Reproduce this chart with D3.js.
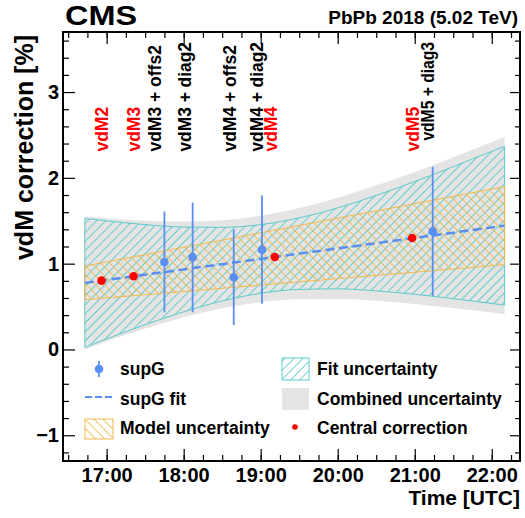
<!DOCTYPE html>
<html>
<head>
<meta charset="utf-8">
<script src="https://cdn.jsdelivr.net/npm/d3@7"></script>
<style>
  body { margin: 0; background: #fff; }
  text { font-family: 'Liberation Sans', Arial, Helvetica, sans-serif; font-weight: bold; }
</style>
</head>
<body>
<div id="chart"></div>
<script>
// uncertainty bands, sampled along the fit (UTC time of day, correction in %)
const bandTimes = ['16:43', '17:00', '17:30', '18:00', '18:30', '19:00', '19:30', '20:00', '20:30', '21:00', '21:30', '22:00', '22:10'];
const fitCentre = [0.776, 0.811, 0.872, 0.933, 0.994, 1.055, 1.117, 1.178, 1.239, 1.300, 1.361, 1.423, 1.443];
const fitLow = [0.025, 0.123, 0.289, 0.439, 0.565, 0.655, 0.700, 0.706, 0.683, 0.643, 0.592, 0.536, 0.517];
const fitHigh = [1.527, 1.499, 1.455, 1.427, 1.423, 1.455, 1.534, 1.650, 1.795, 1.957, 2.130, 2.310, 2.367];
const modelLow = [0.579, 0.601, 0.638, 0.675, 0.713, 0.750, 0.788, 0.825, 0.863, 0.900, 0.937, 0.976, 0.988];
const modelHigh = [0.973, 1.021, 1.106, 1.191, 1.275, 1.360, 1.446, 1.531, 1.615, 1.700, 1.785, 1.870, 1.898];
const combLow = [0.000, 0.092, 0.244, 0.376, 0.481, 0.552, 0.586, 0.588, 0.568, 0.531, 0.483, 0.430, 0.411];
const combHigh = [1.552, 1.530, 1.500, 1.490, 1.507, 1.558, 1.648, 1.768, 1.910, 2.069, 2.239, 2.416, 2.473];

// supG scans with errors
const supgTimes = ['17:45', '18:07', '18:39', '19:01', '21:14'];
const supgValues = [1.020, 1.073, 0.841, 1.163, 1.376];
const supgErrors = [0.588, 0.640, 0.556, 0.630, 0.752];

// central corrections at the vdM scans
const vdmTimes = ['16:56', '17:21', '19:11', '20:58'];
const vdmValues = [0.802, 0.853, 1.078, 1.299];

// scan annotations
const labelTexts = ['vdM2', 'vdM3', 'vdM3 + offs2', 'vdM3 + diag2', 'vdM4 + offs2', 'vdM4 + diag2', 'vdM4', 'vdM5', 'vdM5 + diag3'];
const labelTimes = ['16:56', '17:21', '17:38', '18:01', '18:36', '18:57', '19:08', '20:59', '21:10'];
const labelIsVdm = [true, true, false, false, false, false, true, true, false];
const labelBase = [2.306, 2.306, 2.306, 2.306, 2.306, 2.306, 2.306, 2.306, 2.434];

const xDomain = ['16:26', '22:22'];
const yDomain = [-1.3, 3.7];
const yMajor = [-1, 0, 1, 2, 3];

const W = 525, H = 518;
const frame = {left: 63, right: 520, top: 32, bottom: 461};
const colors = {point: '#5a8ef0', red: '#ff0000', teal: '#5ccaca', orange: '#f2b94f', gray: '#e4e4e4'};

const parseTime = d3.utcParse('%H:%M');
const x = d3.scaleUtc().domain(xDomain.map(parseTime)).range([frame.left, frame.right]);
const y = d3.scaleLinear().domain(yDomain).range([frame.bottom, frame.top]);

const svg = d3.select('#chart').append('svg')
  .attr('width', W)
  .attr('height', H);

// hatch patterns
const defs = svg.append('defs');
function hatch(id, color, angle) {
  const p = defs.append('pattern')
    .attr('id', id)
    .attr('patternUnits', 'userSpaceOnUse')
    .attr('width', 6.4)
    .attr('height', 6.4)
    .attr('patternTransform', 'rotate(' + angle + ')');
  p.append('line')
    .attr('x1', 0.5).attr('x2', 0.5)
    .attr('y1', -1).attr('y2', 8)
    .style('stroke', color)
    .style('stroke-width', 0.9);
}
hatch('hatchFit', colors.teal, 45);
hatch('hatchModel', colors.orange, -45);

const bandData = bandTimes.map((t, i) => ({
  t: parseTime(t), c: fitCentre[i],
  fl: fitLow[i], fh: fitHigh[i],
  ml: modelLow[i], mh: modelHigh[i],
  cl: combLow[i], ch: combHigh[i]
}));

const band = (lo, hi) => d3.area()
  .x(d => x(d.t))
  .y0(d => y(d[lo]))
  .y1(d => y(d[hi]))
  .curve(d3.curveMonotoneX);

const plot = svg.append('g').attr('class', 'plot');

plot.append('path')
  .datum(bandData)
  .attr('d', band('cl', 'ch'))
  .style('fill', colors.gray);

plot.append('path')
  .datum(bandData)
  .attr('d', band('fl', 'fh'))
  .style('fill', 'url(#hatchFit)')
  .style('stroke', colors.teal)
  .style('stroke-width', 1);

plot.append('path')
  .datum(bandData)
  .attr('d', band('ml', 'mh'))
  .style('fill', 'url(#hatchModel)')
  .style('stroke', colors.orange)
  .style('stroke-width', 1);

plot.append('path')
  .datum(bandData)
  .attr('d', d3.line().x(d => x(d.t)).y(d => y(d.c)))
  .style('fill', 'none')
  .style('stroke', colors.point)
  .style('stroke-width', 2.5)
  .style('stroke-dasharray', '9,4.5');

const supg = supgTimes.map((t, i) => ({t: parseTime(t), v: supgValues[i], e: supgErrors[i]}));

plot.selectAll('line.err')
  .data(supg)
  .enter()
  .append('line')
  .attr('class', 'err')
  .attr('x1', d => x(d.t))
  .attr('x2', d => x(d.t))
  .attr('y1', d => y(d.v - d.e))
  .attr('y2', d => y(d.v + d.e))
  .style('stroke', colors.point)
  .style('stroke-width', 1.8);

plot.selectAll('circle.supg')
  .data(supg)
  .enter()
  .append('circle')
  .attr('class', 'supg')
  .attr('cx', d => x(d.t))
  .attr('cy', d => y(d.v))
  .attr('r', 4.3)
  .style('fill', colors.point);

plot.selectAll('circle.vdm')
  .data(vdmTimes.map((t, i) => ({t: parseTime(t), v: vdmValues[i]})))
  .enter()
  .append('circle')
  .attr('class', 'vdm')
  .attr('cx', d => x(d.t))
  .attr('cy', d => y(d.v))
  .attr('r', 4.3)
  .style('fill', colors.red);

// rotated scan labels, squeezed if they would run into the top of the frame
plot.selectAll('text.scan')
  .data(labelTexts.map((s, i) => ({s: s, t: parseTime(labelTimes[i]), vdm: labelIsVdm[i], b: labelBase[i]})))
  .enter()
  .append('text')
  .attr('class', 'scan')
  .attr('transform', d => 'translate(' + [x(d.t), y(d.b)] + ') rotate(-90)')
  .attr('dominant-baseline', 'central')
  .style('font-size', '17.5px')
  .style('fill', d => d.vdm ? colors.red : '#000')
  .text(d => d.s)
  .each(function(d) {
    const room = y(d.b) - frame.top - 10;
    if (this.getComputedTextLength() > room) {
      d3.select(this).attr('textLength', room).attr('lengthAdjust', 'spacingAndGlyphs');
    }
  });

// axes, ticks pointing into the frame
const axes = svg.append('g').attr('class', 'axes');
const hourFmt = d3.utcFormat('%H:%M');
const yMinor = d3.range(-1.2, 3.61, 0.2).filter(v => Math.abs(v - Math.round(v)) > 0.01);

function styleAxis(g) {
  g.select('.domain').remove();
  g.selectAll('.tick line').style('stroke', '#000').style('stroke-width', 1.2);
  g.selectAll('text').style('font-size', '20px').style('fill', '#000')
    .style('font-family', "'Liberation Sans', Arial, sans-serif").style('font-weight', 'bold');
}

axes.append('g')
  .attr('transform', 'translate(0,' + frame.bottom + ')')
  .call(d3.axisBottom(x).ticks(d3.utcHour.every(1)).tickSize(-12).tickPadding(7).tickFormat(hourFmt))
  .call(styleAxis);
axes.append('g')
  .attr('transform', 'translate(0,' + frame.bottom + ')')
  .call(d3.axisBottom(x).ticks(d3.utcMinute.every(15)).tickSize(-6).tickFormat(''))
  .call(styleAxis);
axes.append('g')
  .attr('transform', 'translate(0,' + frame.top + ')')
  .call(d3.axisTop(x).ticks(d3.utcHour.every(1)).tickSize(-12).tickFormat(''))
  .call(styleAxis);
axes.append('g')
  .attr('transform', 'translate(0,' + frame.top + ')')
  .call(d3.axisTop(x).ticks(d3.utcMinute.every(15)).tickSize(-6).tickFormat(''))
  .call(styleAxis);
axes.append('g')
  .attr('transform', 'translate(' + frame.left + ',0)')
  .call(d3.axisLeft(y).tickValues(yMajor).tickSize(-12).tickPadding(4).tickFormat(d3.format('d')))
  .call(styleAxis);
axes.append('g')
  .attr('transform', 'translate(' + frame.left + ',0)')
  .call(d3.axisLeft(y).tickValues(yMinor).tickSize(-6).tickFormat(''))
  .call(styleAxis);
axes.append('g')
  .attr('transform', 'translate(' + frame.right + ',0)')
  .call(d3.axisRight(y).tickValues(yMajor).tickSize(-10).tickFormat(''))
  .call(styleAxis);
axes.append('g')
  .attr('transform', 'translate(' + frame.right + ',0)')
  .call(d3.axisRight(y).tickValues(yMinor).tickSize(-5).tickFormat(''))
  .call(styleAxis);

axes.append('rect')
  .attr('x', frame.left)
  .attr('y', frame.top)
  .attr('width', frame.right - frame.left)
  .attr('height', frame.bottom - frame.top)
  .style('fill', 'none')
  .style('stroke', '#000')
  .style('stroke-width', 2);

// titles
svg.append('text')
  .attr('x', 65).attr('y', 25)
  .attr('textLength', 72)
  .attr('lengthAdjust', 'spacingAndGlyphs')
  .style('font-size', '27px')
  .text('CMS');
svg.append('text')
  .attr('x', 518).attr('y', 24)
  .attr('text-anchor', 'end')
  .style('font-size', '19px')
  .text('PbPb 2018 (5.02 TeV)');
svg.append('text')
  .attr('x', 520).attr('y', 505)
  .attr('text-anchor', 'end')
  .style('font-size', '21px')
  .text('Time [UTC]');
svg.append('text')
  .attr('transform', 'translate(33,35) rotate(-90)')
  .attr('text-anchor', 'end')
  .style('font-size', '25px')
  .text('vdM correction [%]');

// legend
const legend = svg.append('g').attr('class', 'legend').style('font-size', '17.5px');
const legendRows = [369, 399, 428];

legend.append('line')
  .attr('x1', 99).attr('x2', 99)
  .attr('y1', legendRows[0] - 8).attr('y2', legendRows[0] + 8)
  .style('stroke', colors.point).style('stroke-width', 1.8);
legend.append('circle')
  .attr('cx', 99).attr('cy', legendRows[0]).attr('r', 4.3)
  .style('fill', colors.point);
legend.append('line')
  .attr('x1', 85).attr('x2', 113)
  .attr('y1', legendRows[1] - 2).attr('y2', legendRows[1] - 2)
  .style('stroke', colors.point).style('stroke-width', 2.2).style('stroke-dasharray', '7,3');
legend.append('rect')
  .attr('x', 85).attr('y', legendRows[2] - 9).attr('width', 28).attr('height', 20)
  .style('fill', 'url(#hatchModel)').style('stroke', colors.orange);

legend.append('rect')
  .attr('x', 282).attr('y', legendRows[0] - 11).attr('width', 27).attr('height', 22)
  .style('fill', 'url(#hatchFit)').style('stroke', colors.teal);
legend.append('rect')
  .attr('x', 282).attr('y', legendRows[1] - 11).attr('width', 27).attr('height', 22)
  .style('fill', colors.gray);
legend.append('circle')
  .attr('cx', 295).attr('cy', legendRows[2] - 1).attr('r', 2.8)
  .style('fill', colors.red);

const legendLeft = ['supG', 'supG fit', 'Model uncertainty'];
const legendRight = ['Fit uncertainty', 'Combined uncertainty', 'Central correction'];
legendLeft.forEach((s, i) => {
  legend.append('text').attr('x', 120).attr('y', legendRows[i] + 6).text(s);
});
legendRight.forEach((s, i) => {
  legend.append('text').attr('x', 317).attr('y', legendRows[i] + 6).text(s);
});
</script>
</body>
</html>
